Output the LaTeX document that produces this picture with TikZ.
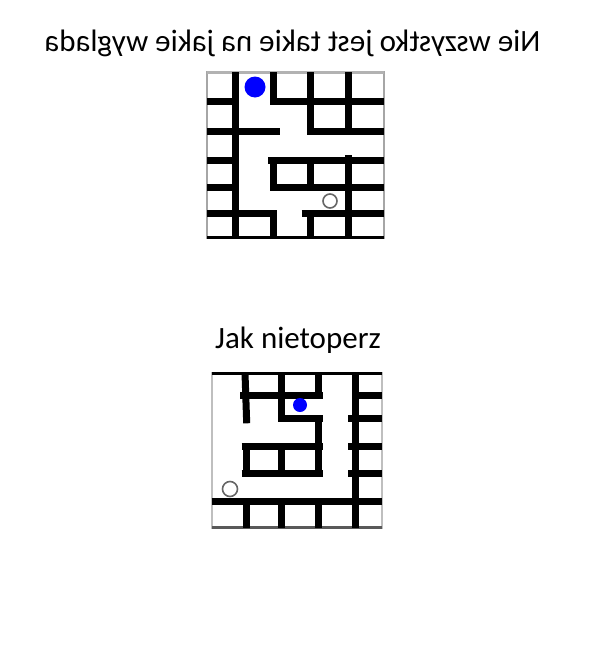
\documentclass[tikz,border=0pt]{standalone}
\usepackage{fontspec}
\setmainfont{Carlito}
\begin{document}
\begin{tikzpicture}[x=1pt,y=-1pt,
  wall/.style={line width=7pt,black,line cap=butt,line join=miter},
  frameline/.style={line width=2pt,gray!70},
  title/.style={font=\fontsize{31}{36}\selectfont,inner sep=0pt,anchor=base},
  ball/.style={fill=blue,draw=none},
  goal/.style={draw=gray!80!black,line width=1.6pt,fill=white}]
\useasboundingbox (0,0) rectangle (600,648);
% ---- titles
\node[title,xscale=-1] (t1) at (292.5,51) {Nie wszystko jest takie na jakie wyglada};
\node[title] (t2) at (298,348) {Jak nietoperz};
% ---- top maze
\draw[frameline] (207,72) rectangle (384,238);
\draw[line width=3.5pt,gray!60] (207,72.5) -- (384,72.5);
\draw[line width=3pt,black] (207,237.5) -- (384,237.5);
\draw[wall] (235,72) -- (235,238);
\draw[wall] (273.3,72) -- (273.3,101.7) -- (384,101.7);
\draw[wall] (207,101.7) -- (236.7,101.7);
\draw[wall] (207,131.7) -- (280,131.7);
\draw[wall] (310,72) -- (310,131.7) -- (384,131.7);
\draw[wall] (348.3,72) -- (348.3,131.7);
\draw[wall] (207,160) -- (235,160);
\draw[wall] (207,187.7) -- (235,187.7);
\draw[wall] (268.3,160) -- (384,160);
\draw[wall] (270,187.7) -- (384,187.7);
\draw[wall] (273.3,157) -- (273.3,191);
\draw[wall] (310,157) -- (310,191);
\draw[wall] (348.3,155) -- (348.3,238);
\draw[wall] (207,213.3) -- (273.3,213.3) -- (273.3,238);
\draw[wall] (301.7,213.3) -- (384,213.3);
\draw[wall] (310,213.3) -- (310,238);
\path[ball] (255,87) circle (10.5);
\path[goal] (330,201) circle (7);
% ---- bottom maze
\draw[frameline,gray!50] (212,373) rectangle (382,528);
\draw[line width=2.5pt,gray!70!black] (212,527.5) -- (382,527.5);
\draw[line width=3pt,black] (212,373.5) -- (382,373.5);
\draw[wall] (245,373) -- (246.7,423.3);
\draw[wall] (240,395) -- (323.3,395);
\draw[wall] (355,395) -- (381.7,395);
\draw[wall] (281.7,373) -- (281.7,418.3) -- (323.3,418.3);
\draw[wall] (318.3,373) -- (318.3,395);
\draw[wall] (318.3,418.3) -- (318.3,475);
\draw[wall] (241.7,446.7) -- (323.3,446.7);
\draw[wall] (241.7,473.3) -- (323.3,473.3);
\draw[wall] (246.7,443.3) -- (246.7,475);
\draw[wall] (281.7,443.3) -- (281.7,475);
\draw[wall] (355,373) -- (355,528);
\draw[wall] (348.3,418.3) -- (381.7,418.3);
\draw[wall] (348.3,446.7) -- (381.7,446.7);
\draw[wall] (348.3,473.3) -- (381.7,473.3);
\draw[wall] (211.7,501.7) -- (381.7,501.7);
\draw[wall] (246.7,498.3) -- (246.7,528);
\draw[wall] (281.7,498.3) -- (281.7,528);
\draw[wall] (318.3,498.3) -- (318.3,528);
\path[ball] (300,405) circle (7);
\path[goal] (230,489) circle (7.5);
\end{tikzpicture}
\end{document}
